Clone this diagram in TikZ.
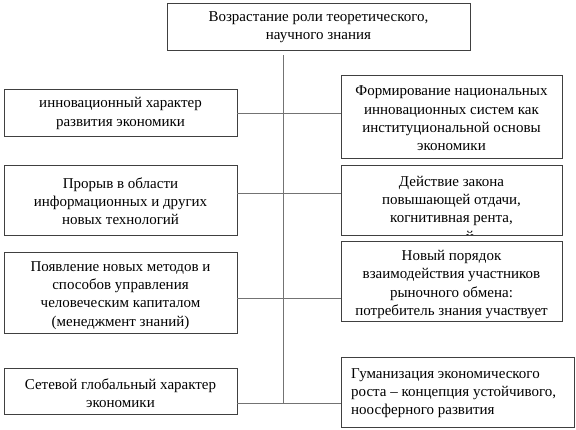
\documentclass[tikz,border=0pt]{standalone}
\usepackage{fontspec}
\setmainfont{Liberation Serif}
\usetikzlibrary{calc}
\begin{document}
\begin{tikzpicture}[x=1pt,y=-1pt,
  box/.style={draw=black!75, line width=0.9pt, fill=white, inner sep=0pt},
  txt/.style={align=center, inner sep=0pt, font=\fontsize{15}{18.3}\selectfont},
  link/.style={draw=black!55, line width=1pt}]
\useasboundingbox (0,0) rectangle (576,429);
% boxes
\node[box, minimum width=303pt, minimum height=47pt] (top) at (318.5,26.5) {};
\node[txt] (topt) at (318.5,27) {Возрастание роли теоретического,\\научного знания};

\node[box, minimum width=233pt, minimum height=47pt] (b1l) at (120.5,112.5) {};
\node[txt] (b1lt) at (120.5,113.5) {инновационный характер\\развития экономики};

\node[box, minimum width=221pt, minimum height=83pt] (b1r) at (451.5,116.5) {};
\node[txt] (b1rt) at (451.5,118.5) {Формирование национальных\\инновационных систем как\\институциональной основы\\экономики};

\node[box, minimum width=233pt, minimum height=70pt] (b2l) at (120.5,200) {};
\node[txt] (b2lt) at (120.5,201) {Прорыв в области\\информационных и других\\новых технологий};

\node[box, minimum width=221pt, minimum height=70pt] (b2r) at (451.5,200) {};
\node[txt, anchor=center] (b2rt) at (451.5,201) {Действие закона\\повышающей отдачи,\\когнитивная рента,};
\begin{scope}
  \clip (341,166) rectangle (562,234.4);
  \node[txt, anchor=base] (b2rcut) at (470,241.5) {й};
\end{scope}

\node[box, minimum width=233pt, minimum height=81pt] (b3l) at (120.5,292.5) {};
\node[txt] (b3lt) at (120.5,295.5) {Появление новых методов и\\способов управления\\человеческим капиталом\\(менеджмент знаний)};

\node[box, minimum width=221pt, minimum height=80pt] (b3r) at (451.5,281) {};
\node[txt] (b3rt) at (451.5,284.5) {Новый порядок\\взаимодействия участников\\рыночного обмена:\\потребитель знания участвует};

\node[box, minimum width=233pt, minimum height=46pt] (b4l) at (120.5,391) {};
\node[txt] (b4lt) at (120.5,393) {Сетевой глобальный характер\\экономики};

\node[box, minimum width=233pt, minimum height=70pt] (b4r) at (457.5,392) {};
\node[txt, align=left, anchor=west] (b4rt) at (351,393) {Гуманизация экономического\\роста – концепция устойчивого,\\ноосферного развития};

% connectors
\coordinate (v0) at ($(top.south)+(-35.5,5)$);
\coordinate (v1) at (283,403.5);
\draw[link] (v0) -- (v1);
\draw[link] (b1l.east |- 0,113) -- (b1r.west |- 0,113);
\draw[link] (b2l.east |- 0,193) -- (b2r.west |- 0,193);
\draw[link] (b3l.east |- 0,298) -- (b3r.west |- 0,298);
\draw[link] (b4l.east |- 0,403.5) -- (b4r.west |- 0,403.5);
\end{tikzpicture}
\end{document}
